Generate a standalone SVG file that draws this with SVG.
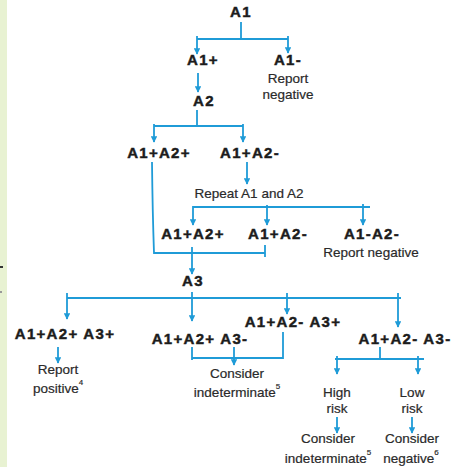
<svg xmlns="http://www.w3.org/2000/svg" width="452" height="467" viewBox="0 0 452 467">
<style>
.b{font-family:"Liberation Sans",Arial,sans-serif;font-weight:bold;font-size:15px;letter-spacing:1.3px;fill:#1c1c1c;stroke:#1c1c1c;stroke-width:0.45px;text-anchor:middle}
.r{font-family:"Liberation Sans",Arial,sans-serif;font-size:13.5px;fill:#2a2a2a;stroke:#2a2a2a;stroke-width:0.2px;text-anchor:middle}
.s{font-size:8px}
.c{fill:none;stroke:#1f9bd7;stroke-width:1.8}
.a{marker-end:url(#ah)}
</style>
<defs>
<marker id="ah" viewBox="0 0 10 10" refX="9" refY="5" markerWidth="6.5" markerHeight="6.5" orient="auto" markerUnits="userSpaceOnUse">
<path d="M0,0 L10,5 L0,10 z" fill="#1f9bd7"/>
</marker>
</defs>
<rect width="452" height="467" fill="#ffffff"/>
<rect x="0" y="0" width="7" height="467" fill="#e8f2d2"/>
<rect x="0" y="266" width="3" height="2" fill="#333"/>
<rect x="0" y="291" width="2" height="2" fill="#999"/>

<g id="connectors">
<path class="c" d="M241,22 V39 M197,39 H288"/>
<path class="c a" d="M197,36 V54"/>
<path class="c a" d="M288,36 V53"/>
<path class="c a" d="M198,73 V92"/>
<path class="c" d="M197,110 V126 M154,126 H243"/>
<path class="c a" d="M154,124 V142"/>
<path class="c a" d="M243,124 V142"/>
<path class="c" d="M152,162 Q152.5,210 154,253 H265 M265,245 V257"/>
<path class="c a" d="M247,162 V184"/>
<path class="c" d="M193,207 H370"/>
<path class="c a" d="M193,206 V225"/>
<path class="c a" d="M267,205 V225"/>
<path class="c a" d="M363,204 V225"/>
<path class="c a" d="M192,247 V274"/>
<path class="c" d="M67,298 H401"/>
<path class="c a" d="M67,293 V319"/>
<path class="c a" d="M192,292 V321"/>
<path class="c a" d="M287,293 V314"/>
<path class="c a" d="M398,293 V327"/>
<path class="c a" d="M58,347 V363"/>
<path class="c" d="M192,347 V360 M192,358 H283 V332"/>
<path class="c a" d="M234,347 V365"/>
<path class="c" d="M380,347 V358 M335,359 H424"/>
<path class="c a" d="M337,356 V374"/>
<path class="c a" d="M418,356 V374"/>
<path class="c a" d="M337,417 V433"/>
<path class="c a" d="M412,417 V433"/>
</g>

<g id="n-a1"><text class="b" x="241" y="17">A1</text></g>
<g id="n-a1pos"><text class="b" x="203" y="65">A1+</text></g>
<g id="n-a1neg"><text class="b" x="288" y="65">A1-</text><text class="r" x="288" y="83">Report</text><text class="r" x="288" y="99">negative</text></g>
<g id="n-a2"><text class="b" x="204" y="106">A2</text></g>
<g id="n-pp1"><text class="b" x="159" y="158">A1+A2+</text></g>
<g id="n-pn1"><text class="b" x="250" y="158">A1+A2-</text></g>
<g id="n-repeat"><text class="r" x="249" y="198">Repeat A1 and A2</text></g>
<g id="n-pp2"><text class="b" x="193" y="239">A1+A2+</text></g>
<g id="n-pn2"><text class="b" x="278" y="239">A1+A2-</text></g>
<g id="n-nn"><text class="b" x="372" y="239">A1-A2-</text><text class="r" x="371" y="257">Report negative</text></g>
<g id="n-a3"><text class="b" x="193" y="286">A3</text></g>
<g id="n-ppp"><text class="b" x="65" y="339">A1+A2+ A3+</text><text class="r" x="58" y="374">Report</text><text class="r" x="58" y="393">positive<tspan class="s" dy="-8">4</tspan></text></g>
<g id="n-pnp"><text class="b" x="293" y="327">A1+A2- A3+</text></g>
<g id="n-ppn"><text class="b" x="200" y="344">A1+A2+ A3-</text></g>
<g id="n-indet"><text class="r" x="237" y="378">Consider</text><text class="r" x="237" y="397">indeterminate<tspan class="s" dy="-8">5</tspan></text></g>
<g id="n-pnn"><text class="b" x="405" y="344">A1+A2- A3-</text></g>
<g id="n-high"><text class="r" x="337" y="397">High</text><text class="r" x="337" y="413">risk</text></g>
<g id="n-low"><text class="r" x="412" y="397">Low</text><text class="r" x="412" y="413">risk</text></g>
<g id="n-indet2"><text class="r" x="328" y="443">Consider</text><text class="r" x="328" y="463">indeterminate<tspan class="s" dy="-8">5</tspan></text></g>
<g id="n-neg"><text class="r" x="412" y="443">Consider</text><text class="r" x="411" y="463">negative<tspan class="s" dy="-8">6</tspan></text></g>
</svg>
